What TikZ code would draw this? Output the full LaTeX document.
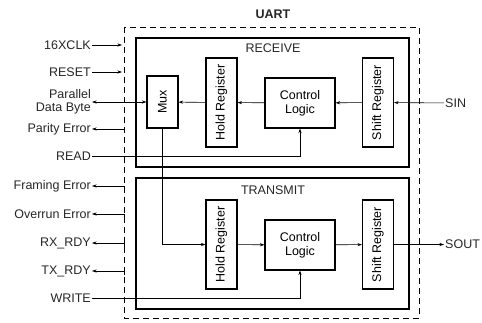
\documentclass[tikz,border=0pt]{standalone}
\usepackage{fontspec}
\setmainfont{Liberation Sans}
\usetikzlibrary{arrows.meta, calc, positioning}
\tikzset{
  blk/.style    = {draw, line width=1.1pt, inner sep=0pt, align=center, font=\fontsize{12.5}{14}\selectfont},
  vblk/.style   = {blk, minimum width=31pt, minimum height=89pt},
  ctl/.style    = {blk, minimum width=70pt, minimum height=50pt},
  grp/.style    = {draw, line width=1.1pt},
  sig/.style    = {-{Stealth[length=1.6mm, width=1.1mm]}, line width=0.6pt},
  lbl/.style    = {font=\fontsize{12.5}{13}\selectfont, text=black!85, inner sep=1pt, align=right},
  ttl/.style    = {font=\fontsize{12.5}{14}\selectfont, text=black!85},
}
\newcommand{\vtxt}[1]{\rotatebox{90}{#1}}

\begin{document}
\begin{tikzpicture}[x=1pt, y=-1pt]
  \useasboundingbox (0,0) rectangle (482,322);
  % enclosures
  \draw[line width=0.8pt, dash pattern=on 6pt off 4pt] (124,27) rectangle (419,318);
  \draw[grp] (136,38) rectangle (409,167);
  \draw[grp] (136,178) rectangle (409,309);
  \node[ttl, font=\bfseries\fontsize{12.5}{14}\selectfont] (uart) at (273,14) {UART};
  \node[ttl] (rxt) at (273,48) {RECEIVE};
  \node[ttl] (txt) at (273,190) {TRANSMIT};

  % receive side
  \node[blk, minimum width=31pt, minimum height=52pt] (mux) at (162.5,102) {\vtxt{Mux}};
  \node[vblk] (rhold)  at (221.5,102.5) {\vtxt{Hold Register}};
  \node[ctl]  (rctl)   at (300,103) {Control\\Logic};
  \node[vblk] (rshift) at (378,102.5) {\vtxt{Shift Register}};
  % transmit side
  \node[vblk] (thold)  at (221.5,244.5) {\vtxt{Hold Register}};
  \node[ctl]  (tctl)   at (300,245) {Control\\Logic};
  \node[vblk] (tshift) at (378,244.5) {\vtxt{Shift Register}};

  % pins
  \node[lbl, anchor=east] (clk)   at (92,45)  {16XCLK};
  \node[lbl, anchor=east] (rst)   at (92,72)  {RESET};
  \node[lbl, anchor=east] (pdb)   at (92,102) {Parallel\\Data Byte};
  \node[lbl, anchor=east] (perr)  at (92,129) {Parity Error};
  \node[lbl, anchor=east] (read)  at (92,156) {READ};
  \node[lbl, anchor=east] (ferr)  at (92,186) {Framing Error};
  \node[lbl, anchor=east] (oerr)  at (92,214) {Overrun Error};
  \node[lbl, anchor=east] (rxrdy) at (92,243) {RX\_RDY};
  \node[lbl, anchor=east] (txrdy) at (92,271) {TX\_RDY};
  \node[lbl, anchor=east] (wr)    at (92,298) {WRITE};
  \node[lbl, anchor=west] (sin)   at (444,103) {SIN};
  \node[lbl, anchor=west] (sout)  at (444,244.5) {SOUT};

  \coordinate (clkin) at (122,45);
  \coordinate (rstin) at (122,72);
  \draw[sig] (clk) -- (clkin);
  \draw[sig] (rst) -- (rstin);
  \draw[sig, {Stealth[length=1.6mm, width=1.1mm]}-{Stealth[length=1.6mm, width=1.1mm]}] (pdb.east |- mux.west) -- (mux.west);
  \coordinate (perrc) at (124,129);
  \draw[sig] (perrc) -- (perr);
  \foreach \pin in {ferr, oerr, rxrdy, txrdy} {
    \coordinate (\pin c) at ($(\pin.east)+(32,4)$);
    \draw[sig] (\pin c) |- (\pin);
  }
  \draw[sig] (read) -| (rctl);
  \draw[sig] (wr) -| (tctl);

  % data path
  \draw[sig] (sin) -- (rshift);
  \draw[sig] (rshift) -- (rctl);
  \draw[sig] (rctl) -- (rhold);
  \draw[sig] (rhold) -- (mux);
  \draw[sig] (mux) |- (thold);
  \draw[sig] (thold) -- (tctl);
  \draw[sig] (tctl) -- (tshift);
  \draw[sig] (tshift) -- (sout);
\end{tikzpicture}
\end{document}
